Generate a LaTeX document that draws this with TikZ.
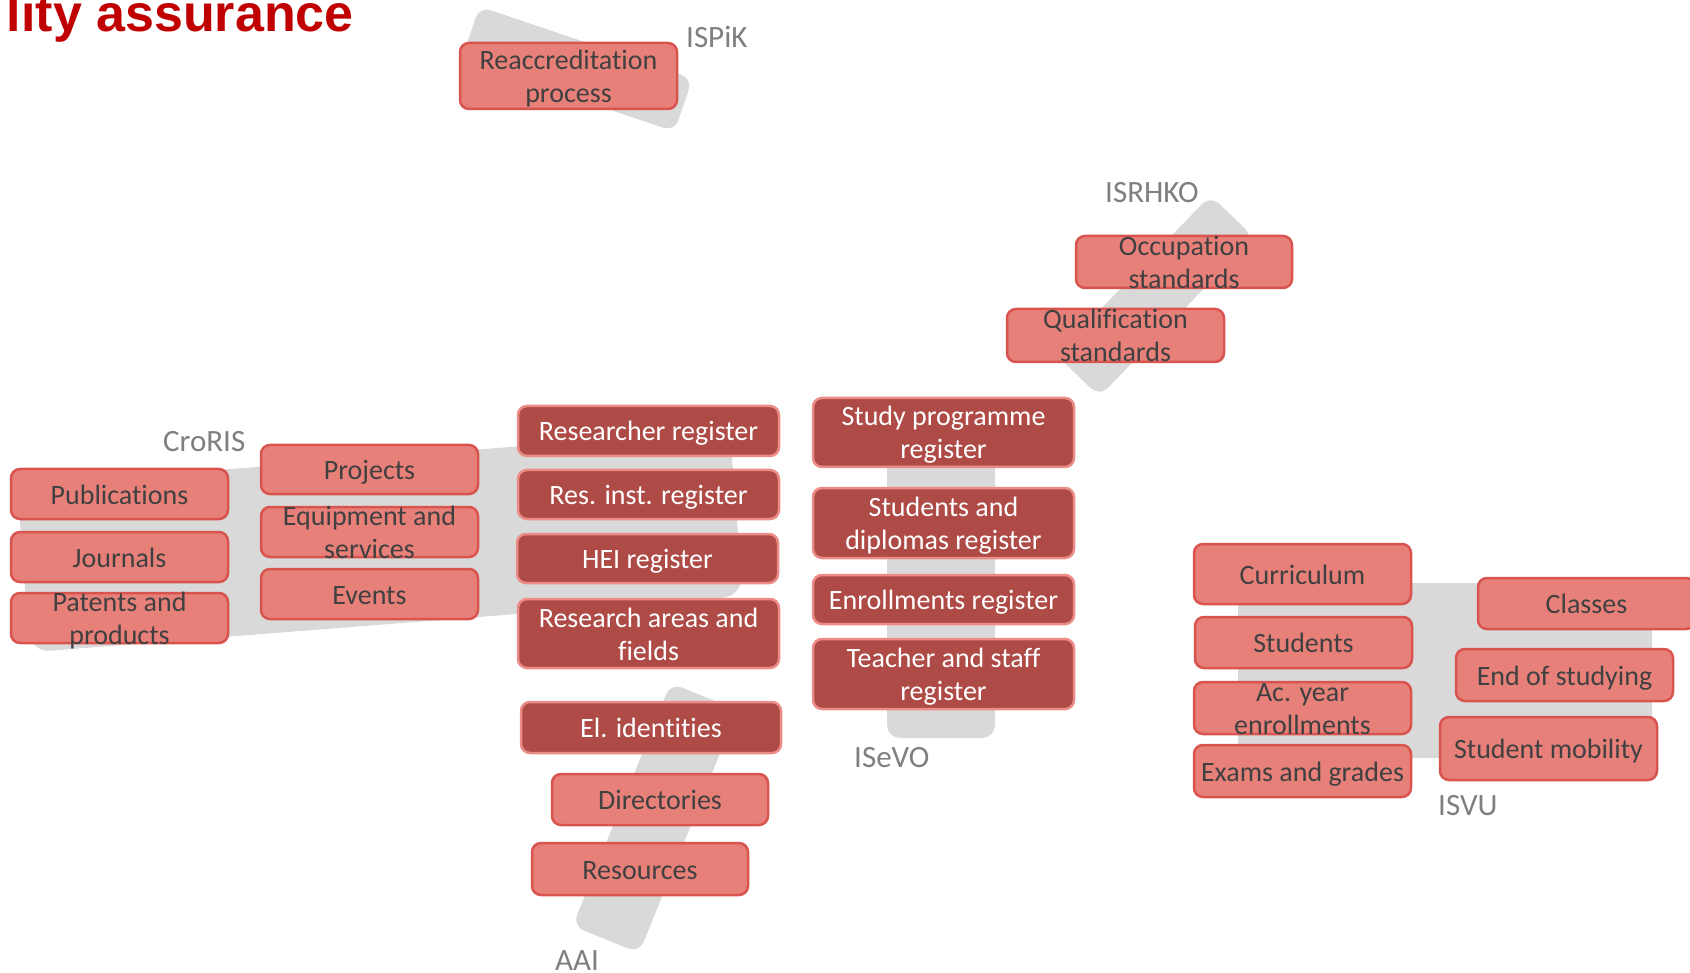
\documentclass[tikz,border=0pt]{standalone}
\usepackage{fontspec}
\setmainfont{Carlito}[Ligatures={NoCommon}]
\newfontfamily\titlefont{Liberation Sans}
\definecolor{lfill}{HTML}{E8807A}
\definecolor{ldraw}{HTML}{D9534F}
\definecolor{dfill}{HTML}{AE4B47}
\definecolor{ddraw}{HTML}{EC8C86}
\definecolor{bandgray}{HTML}{D9D9D9}
\definecolor{labgray}{HTML}{7F7F7F}
\definecolor{txtgray}{HTML}{404040}
\definecolor{titlered}{HTML}{C00000}
\newcommand\sr{\rule[-5pt]{0pt}{30pt}}
\newcommand\bx[7]{%
  \node[#1, minimum width={#5-#3}, minimum height={#6-#4}] (#2) at ({(#3+#5)/2},{(#4+#6)/2}) {};
  \node[#1txt] (#2-t) at (#2.center) {\sr #7};}
\begin{document}
\begin{tikzpicture}[x=1pt,y=-1pt,
  bandshape/.style={fill=bandgray, draw=none, rounded corners=12, inner sep=0},
  lbox/.style={fill=lfill, draw=ldraw, line width=2.5pt, rounded corners=9, inner sep=0},
  lboxtxt/.style={inner sep=0, align=center, text=txtgray, font=\fontsize{28}{33}\selectfont},
  dbox/.style={fill=dfill, draw=ddraw, line width=2.5pt, rounded corners=9, inner sep=0},
  dboxtxt/.style={inner sep=0, align=center, text=white, font=\fontsize{28}{33}\selectfont},
  lab/.style={anchor=base west, inner sep=0, text=labgray, font=\fontsize{31}{37}\selectfont}]
\useasboundingbox (0,0) rectangle (1690,973);

% title
\node[anchor=base east, inner sep=0, text=titlered, font=\titlefont\bfseries\fontsize{52}{60}\selectfont] (title) at (354,32) {lity assurance};

% gray bands
\node[bandshape, minimum width=225, minimum height=56, rotate=-18.7] (ispikband) at (577,69) {};
\node[bandshape, minimum width=222, minimum height=60, rotate=46] (isrhkoband) at (1155,296) {};
\node[bandshape, minimum width=715, minimum height=167, rotate=4.5, rounded corners=20] (crorisband) at (380,541) {};
\node[bandshape, minimum width=108, minimum height=318, rounded corners=13] (isevoband) at (941,579) {};
\node[bandshape, minimum width=262, minimum height=72, rotate=68] (aaiband) at (655,818) {};
\node[bandshape, minimum width=414, minimum height=175, rounded corners=17] (isvuband) at (1445,670.5) {};

% boxes
\bx{lbox}{reacc}{460}{43}{677}{109}{Reaccreditation\\\sr process}
\bx{lbox}{occ}{1076}{236}{1292}{288}{Occupation\\\sr standards}
\bx{lbox}{qual}{1007}{309}{1224}{362}{Qualification\\\sr standards}
\bx{lbox}{pub}{11}{469}{228}{519}{Publications}
\bx{lbox}{jour}{11}{532}{228}{582}{Journals}
\bx{lbox}{pat}{11}{593}{228}{643}{Patents and\\\sr products}
\bx{lbox}{proj}{261}{445}{478}{494}{Projects}
\bx{lbox}{equip}{261}{507}{478}{557}{Equipment and\\\sr services}
\bx{lbox}{events}{261}{569}{478}{619}{Events}
\bx{dbox}{resreg}{518}{406}{779}{456}{Researcher register}
\bx{dbox}{resinst}{518}{470}{779}{519}{Res. inst. register}
\bx{dbox}{hei}{517}{534}{778}{583}{HEI register}
\bx{dbox}{areas}{518}{599}{779}{668}{Research areas and\\\sr fields}
\bx{dbox}{elid}{521}{702}{781}{753}{El. identities}
\bx{lbox}{dirs}{552}{774}{768}{825}{Directories}
\bx{lbox}{res}{532}{843}{748}{895}{Resources}
\bx{dbox}{study}{813}{398}{1074}{467}{Study programme\\\sr register}
\bx{dbox}{stud}{813}{488}{1074}{558}{Students and\\\sr diplomas register}
\bx{dbox}{enr}{813}{575}{1074}{624}{Enrollments register}
\bx{dbox}{teach}{813}{639}{1074}{709}{Teacher and staff\\\sr register}
\bx{lbox}{curr}{1194}{544}{1411}{604}{Curriculum}
\bx{lbox}{students}{1195}{617}{1412}{668}{Students}
\bx{lbox}{acyear}{1194}{682}{1411}{734}{Ac. year\\\sr enrollments}
\bx{lbox}{exams}{1194}{745}{1411}{797}{Exams and grades}
\bx{lbox}{classes}{1478}{578}{1695}{629}{Classes}
\bx{lbox}{endst}{1456}{649}{1673}{701}{End of studying}
\bx{lbox}{mob}{1440}{717}{1657}{780}{Student mobility}

% labels
\node[lab] (ispik) at (686,48) {ISPiK};
\node[lab] (isrhko) at (1105,203) {ISRHKO};
\node[lab] (croris) at (163,452) {CroRIS};
\node[lab] (isevo) at (854,767) {ISeVO};
\node[lab] (aai) at (555,970) {AAI};
\node[lab] (isvu) at (1438,815) {ISVU};
\end{tikzpicture}
\end{document}
